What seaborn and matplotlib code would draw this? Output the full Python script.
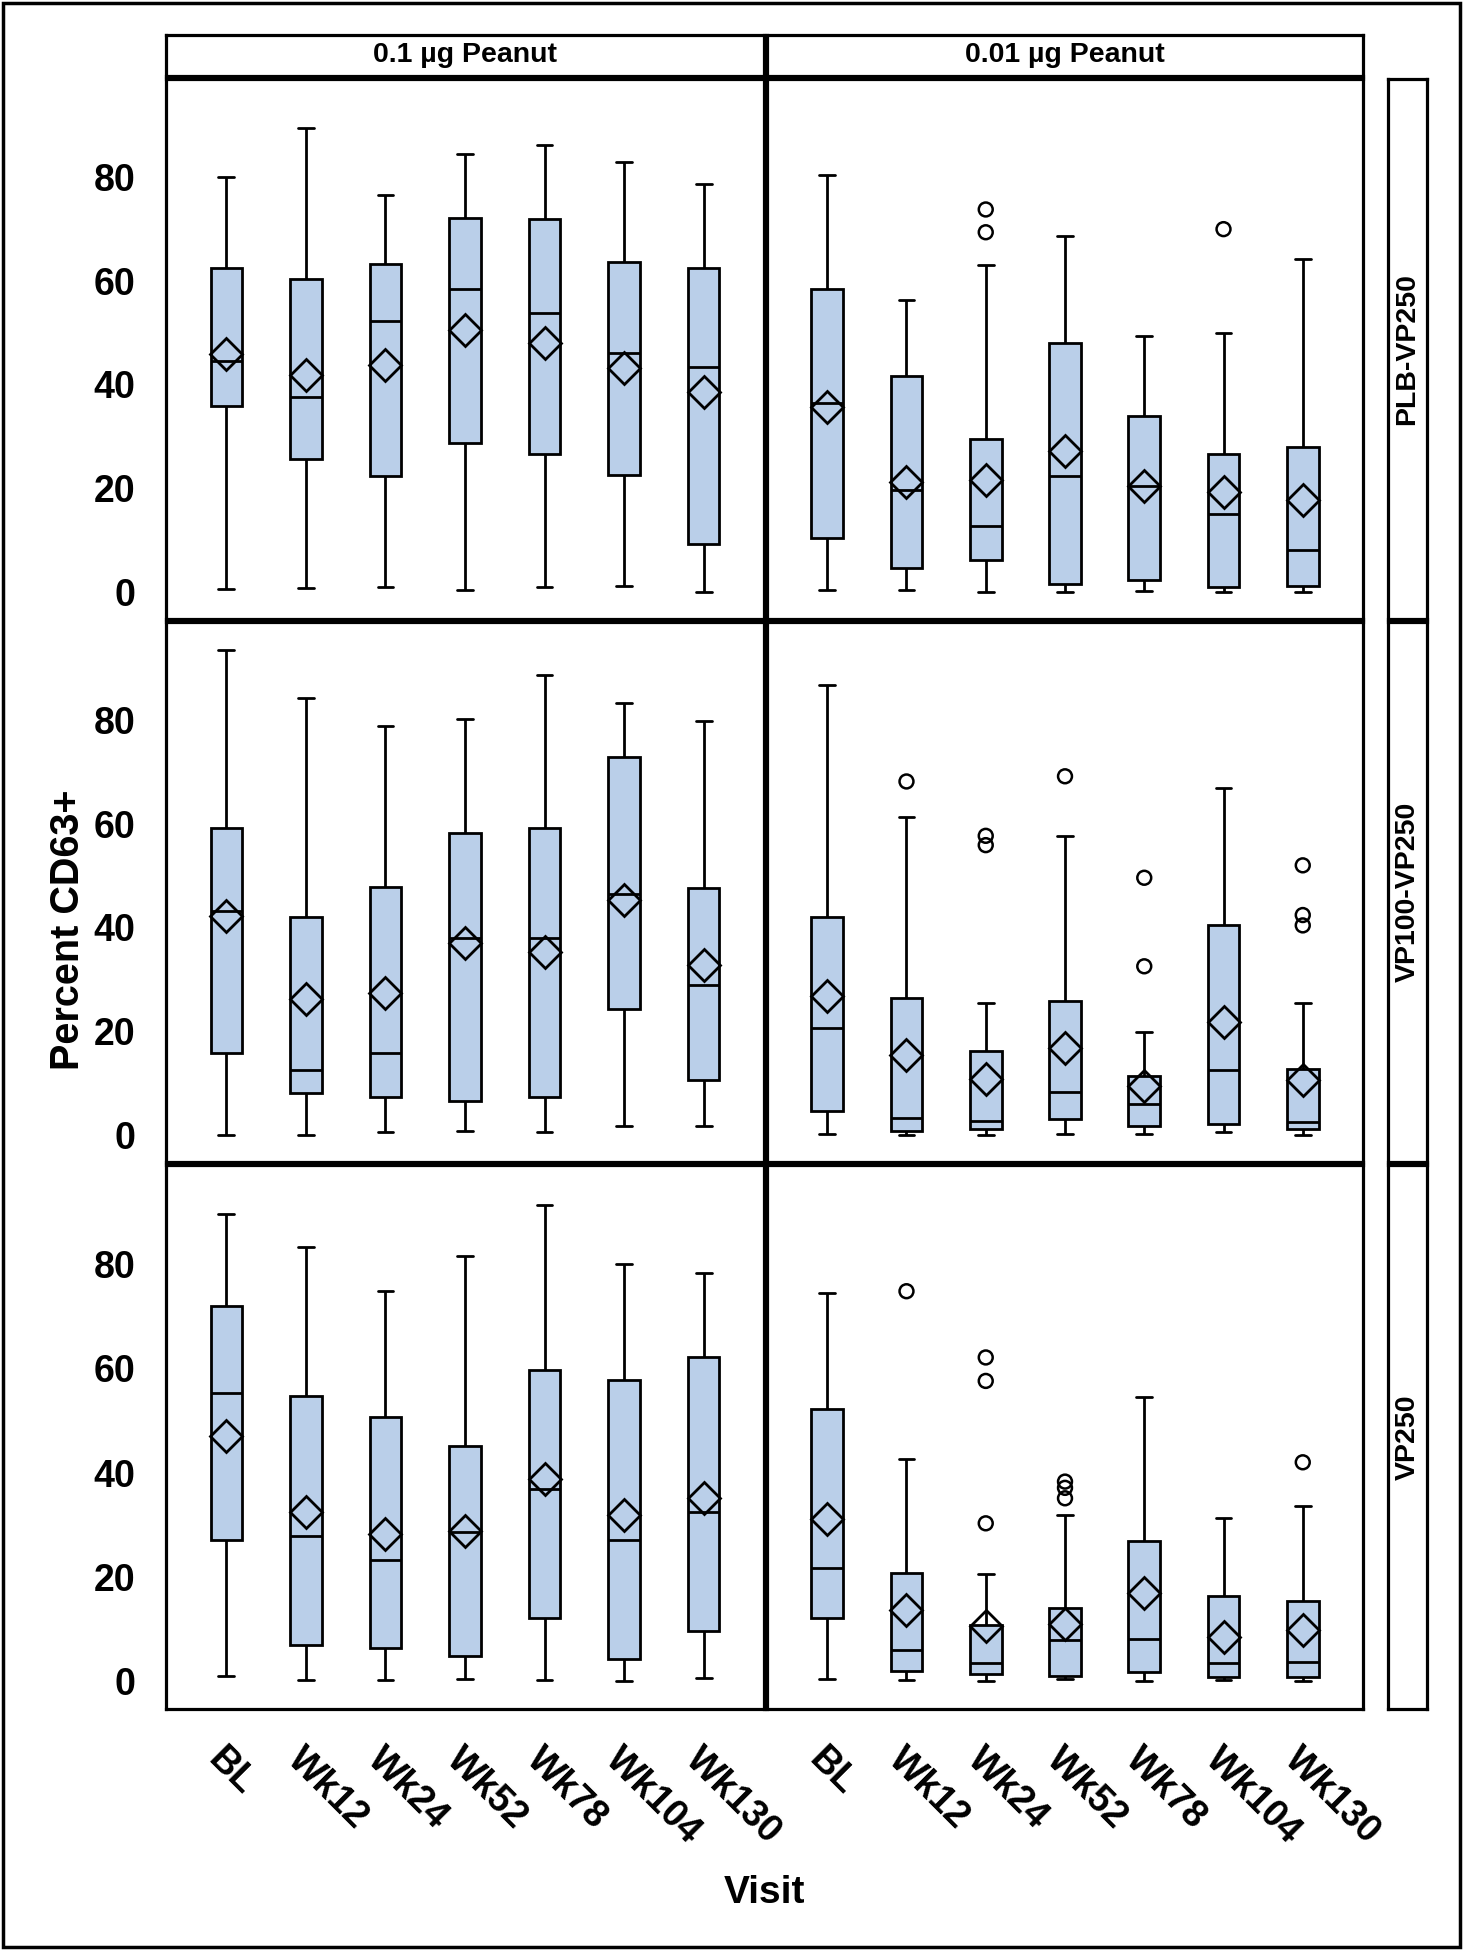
import numpy as np
import pandas as pd
import matplotlib
matplotlib.use("Agg")
import matplotlib.pyplot as plt
from matplotlib.patches import Rectangle
import seaborn as sns

# ---------------- data ----------------
visits = ["BL", "Wk12", "Wk24", "Wk52", "Wk78", "Wk104", "Wk130"]
doses = ["0.1 µg Peanut", "0.01 µg Peanut"]
groups = ["PLB-VP250", "VP100-VP250", "VP250"]

# PLB-VP250, 0.1 ug
plb_hi_lo = [0.5, 0.7, 0.9, 0.3, 0.8, 1.1, 0.0]
plb_hi_q1 = [35.8, 25.6, 22.3, 28.6, 26.5, 22.5, 9.2]
plb_hi_med = [44.5, 37.6, 52.2, 58.5, 53.8, 46.0, 43.4]
plb_hi_q3 = [62.4, 60.3, 63.3, 72.2, 71.9, 63.6, 62.4]
plb_hi_hi = [80.1, 89.6, 76.6, 84.6, 86.2, 82.9, 78.7]
plb_hi_mean = [45.8, 41.9, 43.8, 50.5, 48.0, 43.2, 38.6]
plb_hi_out_visit = []
plb_hi_out_value = []

# PLB-VP250, 0.01 ug
plb_lo_lo = [0.3, 0.3, 0.0, 0.0, 0.2, 0.0, 0.0]
plb_lo_q1 = [10.4, 4.5, 6.1, 1.5, 2.3, 0.9, 1.0]
plb_lo_med = [36.4, 19.7, 12.7, 22.4, 20.3, 14.9, 8.0]
plb_lo_q3 = [58.4, 41.6, 29.5, 48.0, 34.0, 26.5, 27.9]
plb_lo_hi = [80.5, 56.4, 63.1, 68.7, 49.3, 49.9, 64.2]
plb_lo_mean = [35.6, 21.2, 21.6, 27.1, 20.3, 19.2, 17.6]
plb_lo_out_visit = ["Wk24", "Wk24", "Wk104"]
plb_lo_out_value = [73.8, 69.4, 70.0]

# VP100-VP250, 0.1 ug
vp100_hi_lo = [0.0, 0.0, 0.5, 0.6, 0.5, 1.7, 1.6]
vp100_hi_q1 = [15.7, 8.1, 7.3, 6.4, 7.2, 24.3, 10.6]
vp100_hi_med = [43.2, 12.4, 15.7, 38.0, 38.0, 46.4, 28.9]
vp100_hi_q3 = [59.3, 42.1, 47.9, 58.2, 59.2, 72.9, 47.6]
vp100_hi_hi = [93.5, 84.3, 78.9, 80.3, 88.8, 83.4, 79.8]
vp100_hi_mean = [42.3, 26.2, 27.3, 37.0, 35.3, 45.4, 32.7]
vp100_hi_out_visit = []
vp100_hi_out_value = []

# VP100-VP250, 0.01 ug
vp100_lo_lo = [0.1, 0.0, 0.0, 0.2, 0.1, 0.5, 0.0]
vp100_lo_q1 = [4.5, 0.7, 1.1, 3.0, 1.6, 2.0, 1.0]
vp100_lo_med = [20.6, 3.2, 2.6, 8.2, 5.9, 12.4, 2.4]
vp100_lo_q3 = [42.0, 26.3, 16.2, 25.8, 11.3, 40.4, 12.7]
vp100_lo_hi = [86.9, 61.4, 25.5, 57.6, 19.9, 67.0, 25.5]
vp100_lo_mean = [26.7, 15.4, 10.8, 16.7, 9.3, 21.7, 10.6]
vp100_lo_out_visit = ["Wk12", "Wk24", "Wk24", "Wk52", "Wk78", "Wk78", "Wk130", "Wk130", "Wk130"]
vp100_lo_out_value = [68.2, 57.7, 55.9, 69.2, 49.6, 32.5, 52.0, 42.4, 40.4]

# VP250, 0.1 ug
vp250_hi_lo = [1.1, 0.2, 0.2, 0.5, 0.3, 0.0, 0.7]
vp250_hi_q1 = [27.1, 7.0, 6.4, 4.9, 12.2, 4.2, 9.7]
vp250_hi_med = [55.2, 27.8, 23.2, 28.7, 36.9, 27.1, 32.4]
vp250_hi_q3 = [71.9, 54.8, 50.6, 45.1, 59.6, 57.7, 62.1]
vp250_hi_hi = [89.6, 83.3, 74.8, 81.5, 91.4, 80.0, 78.3]
vp250_hi_mean = [47.1, 32.5, 28.2, 28.8, 38.8, 31.9, 35.1]
vp250_hi_out_visit = []
vp250_hi_out_value = []

# VP250, 0.01 ug
vp250_lo_lo = [0.5, 0.2, 0.1, 0.5, 0.0, 0.2, 0.0]
vp250_lo_q1 = [12.2, 1.9, 1.5, 1.0, 1.7, 0.9, 0.9]
vp250_lo_med = [21.8, 6.1, 3.5, 7.9, 8.2, 3.5, 3.8]
vp250_lo_q3 = [52.2, 20.8, 10.9, 14.0, 26.9, 16.4, 15.4]
vp250_lo_hi = [74.4, 42.7, 20.6, 31.9, 54.6, 31.3, 33.6]
vp250_lo_mean = [31.1, 13.6, 10.6, 11.0, 16.9, 8.6, 9.9]
vp250_lo_out_visit = ["Wk12", "Wk24", "Wk24", "Wk24", "Wk52", "Wk52", "Wk52", "Wk130"]
vp250_lo_out_value = [74.8, 62.1, 57.6, 30.3, 38.3, 37.1, 35.1, 42.0]

panels = {
    ("PLB-VP250", "0.1 µg Peanut"): (plb_hi_lo, plb_hi_q1, plb_hi_med, plb_hi_q3, plb_hi_hi, plb_hi_mean, plb_hi_out_visit, plb_hi_out_value),
    ("PLB-VP250", "0.01 µg Peanut"): (plb_lo_lo, plb_lo_q1, plb_lo_med, plb_lo_q3, plb_lo_hi, plb_lo_mean, plb_lo_out_visit, plb_lo_out_value),
    ("VP100-VP250", "0.1 µg Peanut"): (vp100_hi_lo, vp100_hi_q1, vp100_hi_med, vp100_hi_q3, vp100_hi_hi, vp100_hi_mean, vp100_hi_out_visit, vp100_hi_out_value),
    ("VP100-VP250", "0.01 µg Peanut"): (vp100_lo_lo, vp100_lo_q1, vp100_lo_med, vp100_lo_q3, vp100_lo_hi, vp100_lo_mean, vp100_lo_out_visit, vp100_lo_out_value),
    ("VP250", "0.1 µg Peanut"): (vp250_hi_lo, vp250_hi_q1, vp250_hi_med, vp250_hi_q3, vp250_hi_hi, vp250_hi_mean, vp250_hi_out_visit, vp250_hi_out_value),
    ("VP250", "0.01 µg Peanut"): (vp250_lo_lo, vp250_lo_q1, vp250_lo_med, vp250_lo_q3, vp250_lo_hi, vp250_lo_mean, vp250_lo_out_visit, vp250_lo_out_value),
}

# ---------------- style ----------------
sns.set_theme(style="white")
plt.rcParams["font.family"] = ["Liberation Sans", "DejaVu Sans"]
plt.rcParams["font.weight"] = "bold"
for key in ("text.color", "axes.labelcolor", "xtick.color", "ytick.color", "axes.edgecolor"):
    plt.rcParams[key] = "black"

BOX = "#BACFE9"
LW = 2.0
SPW = 2.3
TICKFS = 27
W, H = 1463, 1950


def fx(px):
    return px / W


def fy(py):
    return 1 - py / H


fig = plt.figure(figsize=(W / 100, H / 100), dpi=100)

col_edges = [(166, 764), (767, 1363)]
row_edges = [(79, 619), (622, 1162), (1165, 1709)]


def frame(ax):
    for s in ax.spines.values():
        s.set_visible(True)
        s.set_color("black")
        s.set_linewidth(SPW)


for r, grp in enumerate(groups):
    for c, dose in enumerate(doses):
        x0, x1 = col_edges[c]
        y0, y1 = row_edges[r]
        ax = fig.add_axes([fx(x0), fy(y1), (x1 - x0) / W, (y1 - y0) / H])
        lo, q1, med, q3, hi, mean, ov, oval = panels[(grp, dose)]
        # five-number table: quartiles of these five values are exactly q1/med/q3
        rows = []
        for i, v in enumerate(visits):
            for val in (lo[i], q1[i], med[i], q3[i], hi[i]):
                rows.append({"Visit": v, "Value": val})
        box_df = pd.DataFrame(rows)
        sns.boxplot(data=box_df, x="Visit", y="Value", order=visits,
                    whis=(0, 100), showfliers=False, width=0.4,
                    color=BOX, saturation=1, linecolor="black",
                    linewidth=LW, ax=ax)
        mean_df = pd.DataFrame({"Visit": visits, "Mean": mean})
        n_lines = len(ax.lines)
        sns.pointplot(data=mean_df, x="Visit", y="Mean", order=visits,
                      errorbar=None, linestyle="none", marker="D",
                      markersize=16, color="black",
                      markerfacecolor="none", markeredgecolor="black",
                      markeredgewidth=2.0, ax=ax)
        for ln in ax.lines[n_lines:]:
            ln.set_markerfacecolor("none")
            ln.set_linestyle("none")
            ln.set_zorder(5)
        if len(ov):
            out_df = pd.DataFrame({"Visit": ov, "Value": oval})
            n_coll = len(ax.collections)
            sns.stripplot(data=out_df, x="Visit", y="Value", order=visits,
                          jitter=False, size=10, color="white",
                          edgecolor="black", linewidth=1.8, ax=ax)
            for coll in ax.collections[n_coll:]:
                coll.set_facecolor("none")
                coll.set_edgecolor("black")
                coll.set_zorder(6)

        ax.set_xlim(-0.76, 6.76)
        ax.set_ylim(-5.3, 99)
        ax.set_xlabel("")
        ax.set_ylabel("")
        frame(ax)
        ax.set_yticks([0, 20, 40, 60, 80])
        ax.set_xticks(range(len(visits)))
        ax.tick_params(axis="both", direction="out", length=13, width=2.2,
                       color="black", labelsize=TICKFS, pad=9)
        if c == 0:
            ax.set_yticklabels(["0", "20", "40", "60", "80"],
                               fontsize=TICKFS, fontweight="bold")
        else:
            ax.tick_params(axis="y", left=False, labelleft=False)
        if r == 2:
            ax.set_xticklabels(visits, rotation=-45, ha="left", va="top",
                               rotation_mode="anchor", fontsize=TICKFS,
                               fontweight="bold")
            ax.tick_params(axis="x", pad=10)
        else:
            ax.tick_params(axis="x", bottom=False, labelbottom=False)

# column header strips
for c, dose in enumerate(doses):
    x0, x1 = col_edges[c]
    hax = fig.add_axes([fx(x0), fy(76), (x1 - x0) / W, (76 - 35) / H])
    hax.set_xticks([])
    hax.set_yticks([])
    hax.set_facecolor("white")
    frame(hax)
    hax.text(0.5, 0.5, dose, ha="center", va="center", fontsize=20.5,
             fontweight="bold", transform=hax.transAxes)

# row header strips
for r, grp in enumerate(groups):
    y0, y1 = row_edges[r]
    rax = fig.add_axes([fx(1388), fy(y1), (1427 - 1388) / W, (y1 - y0) / H])
    rax.set_xticks([])
    rax.set_yticks([])
    rax.set_facecolor("white")
    frame(rax)
    rax.text(0.5, 0.5, grp, ha="center", va="center", fontsize=20.5,
             fontweight="bold", rotation=90, transform=rax.transAxes)

fig.text(fx(68), fy(930), "Percent CD63+", rotation=90, ha="center",
         va="center", fontsize=28.5, fontweight="bold")
fig.text(fx(764), fy(1893), "Visit", ha="center", va="center",
         fontsize=28, fontweight="bold")

fig.patches.append(Rectangle((fx(3), fy(1947)), (1460 - 3) / W, (1947 - 3) / H,
                             transform=fig.transFigure, fill=False,
                             edgecolor="black", linewidth=2.5))

fig.savefig("out.png", dpi=100, facecolor="white")
